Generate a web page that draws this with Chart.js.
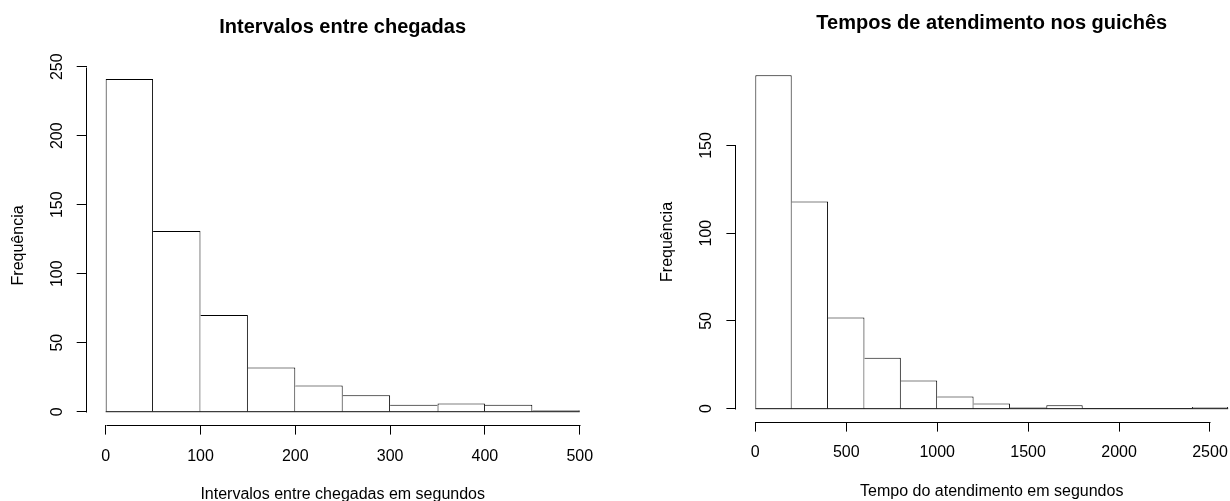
<!DOCTYPE html>
<html>
<head>
<meta charset="utf-8">
<script src="https://cdn.jsdelivr.net/npm/chart.js@4"></script>
<style>
  html, body { margin: 0; padding: 0; background: #fff; overflow: hidden; width: 1230px; height: 501px; position: relative; }
  canvas { position: absolute; top: 0; }
  #chegadas { left: 0; }
  #atendimento { left: 615px; }
</style>
</head>
<body>
<canvas id="chegadas" width="615" height="501"></canvas>
<canvas id="atendimento" width="665" height="501"></canvas>
<script>
// DATA
const chegadasBreaks = [0, 50, 100, 150, 200, 250, 300, 350, 400, 450, 500];
const chegadasCounts = [241, 131, 70, 32, 19, 12, 5, 6, 5, 1];
const chegadasXTicks = [0, 100, 200, 300, 400, 500];
const chegadasYTicks = [0, 50, 100, 150, 200, 250];

const atendBreaks = [0, 200, 400, 600, 800, 1000, 1200, 1400, 1600, 1800, 2000, 2200, 2400, 2600];
const atendCounts = [190, 118, 52, 29, 16, 7, 3, 1, 2, 0, 0, 0, 1];
const atendXTicks = [0, 500, 1000, 1500, 2000, 2500];
const atendYTicks = [0, 50, 100, 150];

const FONT = "'Liberation Sans', Arial, sans-serif";
Chart.defaults.font.family = FONT;
Chart.defaults.color = "#000";

// R-style axes: line only from first to last tick, y labels rotated
const rAxes = {
  id: "rAxes",
  afterDraw(chart, args, opts) {
    const { ctx, chartArea, scales: { x, y } } = chart;
    const xt = x.ticks, yt = y.ticks;
    ctx.save();
    ctx.strokeStyle = "#000";
    ctx.lineWidth = 1;
    ctx.beginPath();
    const xb = Math.round(chartArea.bottom) + 0.5;
    ctx.moveTo(Math.round(x.getPixelForValue(xt[0].value)) + 0.5, xb);
    ctx.lineTo(Math.round(x.getPixelForValue(xt[xt.length - 1].value)) + 0.5, xb);
    const yl = Math.round(chartArea.left) - 0.5;
    ctx.moveTo(yl, Math.round(y.getPixelForValue(yt[0].value)) + 0.5);
    ctx.lineTo(yl, Math.round(y.getPixelForValue(yt[yt.length - 1].value)) + 0.5);
    ctx.stroke();

    ctx.font = "16px " + FONT;
    ctx.fillStyle = "#000";
    ctx.textAlign = "center";
    ctx.textBaseline = "middle";
    yt.forEach(t => {
      ctx.save();
      ctx.translate(chartArea.left - opts.labelGap, y.getPixelForValue(t.value));
      ctx.rotate(-Math.PI / 2);
      ctx.fillText(String(t.value), 0, 0);
      ctx.restore();
    });
    ctx.restore();
  }
};

function histChart(id, breaks, counts, xTicks, yTicks, text, lay) {
  const bins = counts.map((c, i) => ({ x: (breaks[i] + breaks[i + 1]) / 2, y: c }));
  const b0 = breaks[0], bn = breaks[breaks.length - 1];
  const xPad = 0.04 * (bn - b0);
  const yMax = Math.max(...counts);
  const yPad = 0.04 * yMax;

  return new Chart(document.getElementById(id), {
    type: "bar",
    data: {
      datasets: [{
        data: bins,
        backgroundColor: "#fff",
        borderColor: "#000",
        borderSkipped: false,
        inflateAmount: 0,
        barPercentage: 1,
        categoryPercentage: 1,
        borderWidth: ctx => {
          const i = ctx.dataIndex, h = counts[i];
          return {
            top: 1,
            bottom: 0,
            left: (i === 0 || h > counts[i - 1]) ? 1 : 0,
            right: (i === counts.length - 1 || h >= counts[i + 1]) ? 1 : 0
          };
        }
      }, {
        // base line of the rectangles (also under empty bins)
        type: "line",
        data: [{ x: b0, y: 0 }, { x: bn, y: 0 }],
        borderColor: "#000",
        borderWidth: 1,
        pointRadius: 0
      }]
    },
    options: {
      responsive: false,
      animation: false,
      events: [],
      layout: { padding: { left: 0, right: lay.right, top: 0, bottom: 0 } },
      plugins: {
        legend: { display: false },
        tooltip: { enabled: false },
        title: {
          display: true,
          fullSize: false,
          text: text.title,
          color: "#000",
          font: { size: 20, weight: "bold" },
          padding: { top: lay.titleTop, bottom: lay.titleBottom }
        },
        rAxes: { labelGap: lay.labelGap }
      },
      scales: {
        x: {
          type: "linear",
          offset: false,
          min: b0 - xPad,
          max: bn + xPad,
          afterBuildTicks: s => { s.ticks = xTicks.map(v => ({ value: v })); },
          afterFit: s => { s.height = lay.xHeight; },
          grid: { drawOnChartArea: false, offset: false, tickLength: 9.6, color: "#000" },
          border: { display: false },
          ticks: { font: { size: 16 }, color: "#000", padding: lay.xTickPad, maxRotation: 0, autoSkip: false, callback: v => String(v) },
          title: { display: true, text: text.x, color: "#000", font: { size: 16, lineHeight: 0.8 }, padding: { top: 0, bottom: lay.xTitleBottom } }
        },
        y: {
          min: -yPad,
          max: yMax + yPad,
          afterBuildTicks: s => { s.ticks = yTicks.map(v => ({ value: v })); },
          afterFit: s => { s.width = lay.yWidth; },
          grid: { drawOnChartArea: false, tickLength: 10, color: "#000" },
          border: { display: false },
          ticks: { display: false },
          title: { display: true, text: "Frequência", color: "#000", font: { size: 16 }, padding: { top: lay.yTitle, bottom: 0 } }
        }
      }
    },
    plugins: [rAxes]
  });
}

histChart("chegadas", chegadasBreaks, chegadasCounts, chegadasXTicks, chegadasYTicks,
  { title: "Intervalos entre chegadas", x: "Intervalos entre chegadas em segundos" },
  { right: 16.3, titleTop: 15, titleBottom: 26.8, xHeight: 76, yWidth: 86.7, yTitle: 8.7, xTitleBottom: 0.3, xTickPad: 12, labelGap: 29.5 });

histChart("atendimento", atendBreaks, atendCounts, atendXTicks, atendYTicks,
  { title: "Tempos de atendimento nos guichês", x: "Tempo do atendimento em segundos" },
  { right: 32.9, titleTop: 11, titleBottom: 26.9, xHeight: 79, yWidth: 121.4, yTitle: 43.4, xTitleBottom: 2.6, xTickPad: 11.7, labelGap: 29.6 });
</script>
</body>
</html>
